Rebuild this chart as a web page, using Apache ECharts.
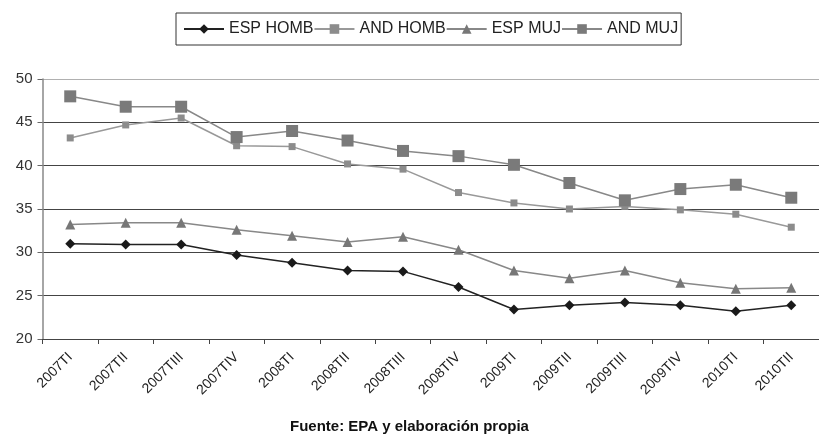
<!DOCTYPE html>
<html>
<head>
<meta charset="utf-8">
<script src="https://cdn.jsdelivr.net/npm/echarts@6/dist/echarts.min.js"></script>
<style>html,body{margin:0;padding:0;background:#fff;}#c{width:819px;height:439px;}</style>
</head>
<body>
<div id="c"></div>
<script>
const categories = ['2007TI','2007TII','2007TIII','2007TIV','2008TI','2008TII','2008TIII','2008TIV','2009TI','2009TII','2009TIII','2009TIV','2010TI','2010TII'];
const espHomb = [31.0, 30.9, 30.9, 29.7, 28.8, 27.9, 27.8, 26.0, 23.4, 23.9, 24.2, 23.9, 23.2, 23.9];
const andHomb = [43.2, 44.7, 45.5, 42.3, 42.2, 40.2, 39.6, 36.9, 35.7, 35.0, 35.3, 34.9, 34.4, 32.9];
const espMuj = [33.2, 33.4, 33.4, 32.6, 31.9, 31.2, 31.8, 30.3, 27.9, 27.0, 27.9, 26.5, 25.8, 25.9];
const andMuj = [48.0, 46.8, 46.8, 43.3, 44.0, 42.9, 41.7, 41.1, 40.1, 38.0, 36.0, 37.3, 37.8, 36.3];
const yTicks = {min: 20, max: 50, interval: 5};
const seriesNames = ['ESP HOMB', 'AND HOMB', 'ESP MUJ', 'AND MUJ'];
const sourceText = 'Fuente: EPA y elaboración propia';

const chart = echarts.init(document.getElementById('c'), null, {renderer: 'canvas'});
const font = 'Liberation Sans, Arial, sans-serif';
chart.setOption({
  animation: false,
  backgroundColor: '#fff',
  title: {
    text: sourceText,
    left: 'center',
    bottom: 0,
    textStyle: {fontFamily: '"Liberation Sans Narrow", "Arial Narrow", ' + font, fontWeight: 'bold', fontSize: 15, color: '#111'}
  },
  legend: {
    left: 176, top: 13,
    itemWidth: 40, itemHeight: 12, itemGap: 0,
    padding: [8, 3, 8, 7],
    borderColor: '#333', borderWidth: 1,
    textStyle: {fontFamily: font, fontSize: 16, color: '#222'},
    data: seriesNames
  },
  grid: {left: 42.5, top: 79, width: 785, bottom: 100, containLabel: false},
  xAxis: {
    type: 'category',
    data: categories,
    boundaryGap: true,
    axisLine: {lineStyle: {color: '#444', width: 1}},
    axisTick: {show: true, length: 5, lineStyle: {color: '#444'}},
    axisLabel: {rotate: 45, margin: 16, fontFamily: font, fontSize: 14, color: '#222'}
  },
  yAxis: {
    type: 'value',
    min: yTicks.min, max: yTicks.max, interval: yTicks.interval,
    axisLine: {show: true, lineStyle: {color: '#888', width: 1.5}},
    axisTick: {show: true, length: 5, lineStyle: {color: '#666'}},
    axisLabel: {margin: 10, fontFamily: font, fontSize: 15, color: '#333'},
    splitLine: {show: true, lineStyle: {color: ['#555','#444','#444','#444','#444','#444','#b0b0b0'], width: 1.2}}
  },
  series: [
    {name: seriesNames[0], type: 'line', data: espHomb, symbol: 'diamond', symbolSize: 10,
     lineStyle: {color: '#222', width: 1.5}, itemStyle: {color: '#1a1a1a'}},
    {name: seriesNames[1], type: 'line', data: andHomb, symbol: 'rect', symbolSize: 7,
     lineStyle: {color: '#999', width: 1.5}, itemStyle: {color: '#8c8c8c'}},
    {name: seriesNames[2], type: 'line', data: espMuj, symbol: 'triangle', symbolSize: 10,
     lineStyle: {color: '#888', width: 1.5}, itemStyle: {color: '#777'}},
    {name: seriesNames[3], type: 'line', data: andMuj, symbol: 'rect', symbolSize: 12,
     lineStyle: {color: '#888', width: 1.5}, itemStyle: {color: '#7a7a7a'}}
  ]
});
</script>
</body>
</html>
